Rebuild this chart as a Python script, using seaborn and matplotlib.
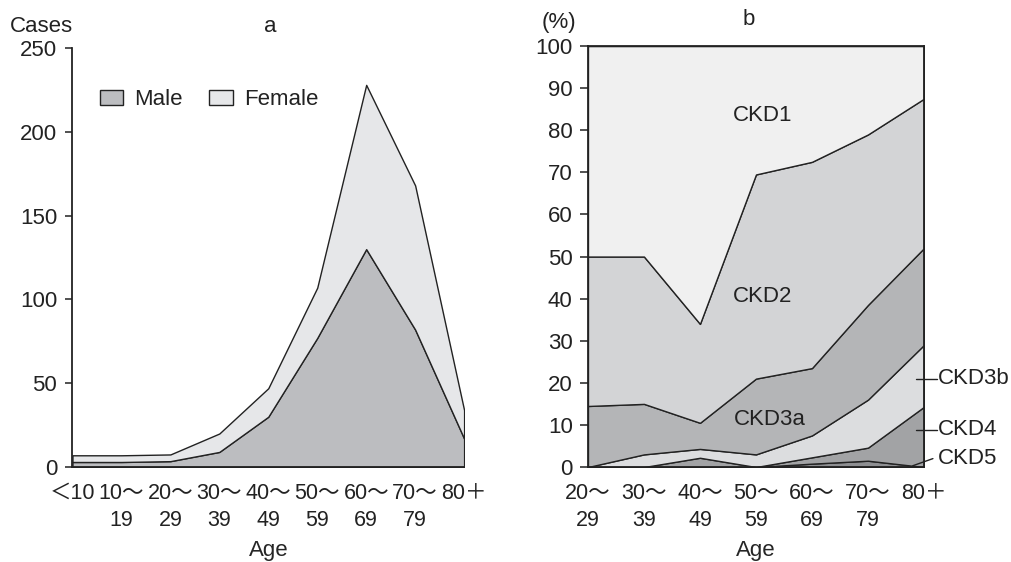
import numpy as np
import matplotlib
matplotlib.use("Agg")
import matplotlib.pyplot as plt
from matplotlib.patches import Patch
import seaborn as sns

# panel a: CKD cases by age group and sex
ages_a = ["＜10", "10～\n19", "20～\n29", "30～\n39", "40～\n49",
          "50～\n59", "60～\n69", "70～\n79", "80＋"]
male = [3, 3, 3.5, 9, 30, 77, 130, 82, 17]
female = [4, 4, 4, 11, 17, 30, 98, 86, 17]

# panel b: share of CKD stages by age group (%)
ages_b = ["20～\n29", "30～\n39", "40～\n49", "50～\n59", "60～\n69", "70～\n79", "80＋"]
ckd5 = [0, 0, 0, 0, 0.8, 1.5, 0]
ckd4 = [0, 0, 2.2, 0, 1.5, 3.1, 14.3]
ckd3b = [0, 3.0, 2.1, 3.0, 5.2, 11.4, 14.7]
ckd3a = [14.5, 12.0, 6.2, 18.0, 16.0, 22.5, 23.0]
ckd2 = [35.5, 35.0, 23.5, 48.5, 49.0, 40.5, 35.5]
ckd1 = [50.0, 50.0, 66.0, 30.5, 27.5, 21.0, 12.5]

c_male, c_female = "#bcbdc0", "#e6e7e9"
ckd_colors = ["#8e8f92", "#a2a3a5", "#dcdddf", "#b4b5b7", "#d3d4d6", "#f0f0f0"]
edge = "#222222"

sns.set_theme(style="ticks")
plt.rcParams['font.family'] = ['Liberation Sans', 'Noto Sans CJK JP']
plt.rcParams['axes.edgecolor'] = edge
plt.rcParams['xtick.color'] = edge
plt.rcParams['ytick.color'] = edge
plt.rcParams['text.color'] = edge
FS = 16

fig = plt.figure(figsize=(10.12, 5.62), dpi=100)
ax1 = fig.add_axes([0.0716, 0.169, 0.387, 0.7456])
ax2 = fig.add_axes([0.581, 0.169, 0.332, 0.749])


def style_xlabels(ax):
    for t in ax.get_xticklabels():
        t.set_linespacing(1.4)


# ---- a
x1 = np.arange(len(ages_a))
ax1.stackplot(x1, male, female, colors=[c_male, c_female],
              edgecolor=edge, linewidth=1.0)
ax1.set_xlim(0, len(ages_a) - 1)
ax1.set_ylim(0, 250)
ax1.set_yticks([0, 50, 100, 150, 200, 250])
ax1.set_xticks(x1, ages_a)
ax1.set_xticks(x1[1:-1], minor=True)
ax1.tick_params(axis='x', which='major', length=0, labelsize=FS - 0.5, pad=11.5)
ax1.tick_params(axis='x', which='minor', length=5, width=1.1)
ax1.tick_params(axis='y', length=5, width=1.1, labelsize=FS, pad=6)
style_xlabels(ax1)
sns.despine(ax=ax1)
for s in ax1.spines.values():
    s.set_linewidth(1.3)
ax1.set_xlabel("Age", fontsize=FS, labelpad=6)
ax1.legend(handles=[Patch(facecolor=c_male, edgecolor=edge, label="Male"),
                    Patch(facecolor=c_female, edgecolor=edge, label="Female")],
           ncol=2, frameon=False, loc='upper left', bbox_to_anchor=(0.07, 0.902),
           borderaxespad=0, borderpad=0, handlelength=1.05, handleheight=0.7,
           handletextpad=0.5, columnspacing=1.2, fontsize=FS)

# ---- b
x2 = np.arange(len(ages_b))
ax2.stackplot(x2, ckd5, ckd4, ckd3b, ckd3a, ckd2, ckd1, colors=ckd_colors,
              edgecolor=edge, linewidth=1.0)
ax2.set_xlim(0, len(ages_b) - 1)
ax2.set_ylim(0, 100)
ax2.set_yticks(range(0, 101, 10))
ax2.set_xticks(x2, ages_b)
ax2.set_xticks(x2[1:-1], minor=True)
ax2.tick_params(axis='x', which='major', length=0, labelsize=FS - 0.5, pad=11.5)
ax2.tick_params(axis='x', which='minor', length=6, width=1.1)
ax2.tick_params(axis='y', length=6, width=1.1, labelsize=FS, pad=5)
style_xlabels(ax2)
for s in ax2.spines.values():
    s.set_linewidth(1.3)
ax2.set_xlabel("Age", fontsize=FS, labelpad=6)

ax2.text(3.125, 83.6, "CKD1", ha='center', va='center', fontsize=FS)
ax2.text(3.125, 40.5, "CKD2", ha='center', va='center', fontsize=FS)
ax2.text(3.25, 11.2, "CKD3a", ha='center', va='center', fontsize=FS)

for y, lab in [(21.0, "CKD3b"), (8.85, "CKD4")]:
    ax2.plot([5.86, 6.23], [y, y], color=edge, lw=1.0, clip_on=False)
    ax2.text(6.25, y, lab, ha='left', va='center', fontsize=FS, clip_on=False)
ax2.plot([5.80, 6.16], [0.3, 2.0], color=edge, lw=1.0, clip_on=False)
ax2.text(6.25, 2.0, "CKD5", ha='left', va='center', fontsize=FS, clip_on=False)

# headings
fig.text(41.5 / 1012, 1 - 31.7 / 562, "Cases", ha='center', va='baseline', fontsize=FS)
fig.text(270 / 1012, 1 - 31.7 / 562, "a", ha='center', va='baseline', fontsize=FS)
fig.text(749 / 1012, 1 - 25 / 562, "b", ha='center', va='baseline', fontsize=FS)
fig.text(576 / 1012, 1 - 28 / 562, "(%)", ha='right', va='baseline', fontsize=FS)

fig.savefig("out.png", dpi=100)
